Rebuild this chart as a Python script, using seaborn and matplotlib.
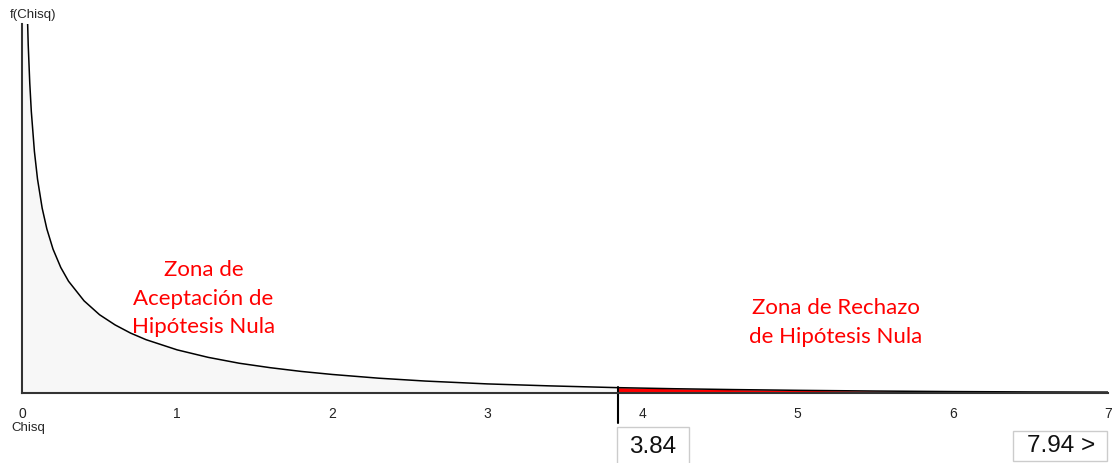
import numpy as np
import matplotlib
matplotlib.use("Agg")
import matplotlib.pyplot as plt
from matplotlib.patches import Rectangle
import seaborn as sns

# curve values (Chisq, f(Chisq))
chisq = [0.01, 0.02, 0.03, 0.04, 0.05, 0.06, 0.08, 0.10, 0.13, 0.16, 0.20, 0.25,
         0.30, 0.40, 0.50, 0.60, 0.70, 0.80, 1.00, 1.20, 1.40, 1.60, 1.80, 2.00,
         2.30, 2.60, 3.00, 3.40, 3.84, 4.20, 4.60, 5.00, 5.50, 6.00, 6.50, 7.00]
density = [3.97, 2.79, 2.27, 1.955, 1.74, 1.58, 1.355, 1.20, 1.037, 0.921, 0.807, 0.704,
           0.627, 0.517, 0.439, 0.382, 0.336, 0.299, 0.242, 0.200, 0.167, 0.142, 0.121, 0.104,
           0.083, 0.067, 0.051, 0.040, 0.030, 0.024, 0.019, 0.015, 0.011, 0.008, 0.006, 0.005]
critical = 3.84
statistic_label = "7.94 >"
x_ticks = [0, 1, 2, 3, 4, 5, 6, 7]

W, H = 1115, 463

sns.set_style("white")
plt.rcParams['font.family'] = ['Liberation Sans', 'DejaVu Sans']

x = np.array(chisq)
y = np.array(density)

fig = plt.figure(figsize=(W / 100, H / 100), dpi=100)
ax = fig.add_axes([22 / W, 70 / H, 1086 / W, 369 / H])

acc = x <= critical
rej = x >= critical
ax.fill_between(x[acc], 0, y[acc], color="#f7f7f7", linewidth=0)
ax.fill_between(x[rej], 0, y[rej], color="#ff0000", linewidth=0)
sns.lineplot(x=x, y=y, ax=ax, color="black", linewidth=1.1)

ax.set_xlim(0, 7)
ax.set_ylim(0, 2.07)
ax.set_xticks(x_ticks)
ax.set_xticklabels([str(t) for t in x_ticks], fontsize=10, color="#222222")
ax.set_yticks([])
ax.set_xlabel("")
ax.set_ylabel("")
ax.tick_params(axis="x", direction="out", length=5, width=1.3, color="#333333", pad=5)
for side in ["top", "right"]:
    ax.spines[side].set_visible(False)
for side in ["left", "bottom"]:
    ax.spines[side].set_color("#333333")
    ax.spines[side].set_linewidth(1.5)

# critical value marker
ax.axvline(critical, ymin=-0.082, ymax=0.016, color="black", linewidth=1.5, clip_on=False)


def value_box(x0, y0, x1, y1, text, tx, ty):
    fig.add_artist(Rectangle((x0 / W, 1 - y1 / H), (x1 - x0) / W, (y1 - y0) / H,
                             transform=fig.transFigure, facecolor="white",
                             edgecolor="#cccccc", linewidth=1, clip_on=False))
    fig.text(tx / W, 1 - ty / H, text, fontsize=17.5, ha="center", va="center", color="#111111")


value_box(617, 427, 689, 470, f"{critical:.2f}", 653, 447)
value_box(1013, 431, 1107, 461, statistic_label, 1061, 446)

# zone labels
ax.text(1.17, 0.53, "Zona de\nAceptación de\nHipótesis Nula", fontsize=16, color="red",
        ha="center", va="center", linespacing=1.55, family=["Lato", "DejaVu Sans"])
ax.text(5.245, 0.395, "Zona de Rechazo\nde Hipótesis Nula", fontsize=16, color="red",
        ha="center", va="center", linespacing=1.55, family=["Lato", "DejaVu Sans"])

fig.text(10 / W, 1 - 15 / H, "f(Chisq)", fontsize=9.5, ha="left", va="center")
fig.text(11 / W, 1 - 428 / H, "Chisq", fontsize=9.5, ha="left", va="center")

fig.savefig("out.png", dpi=100)
